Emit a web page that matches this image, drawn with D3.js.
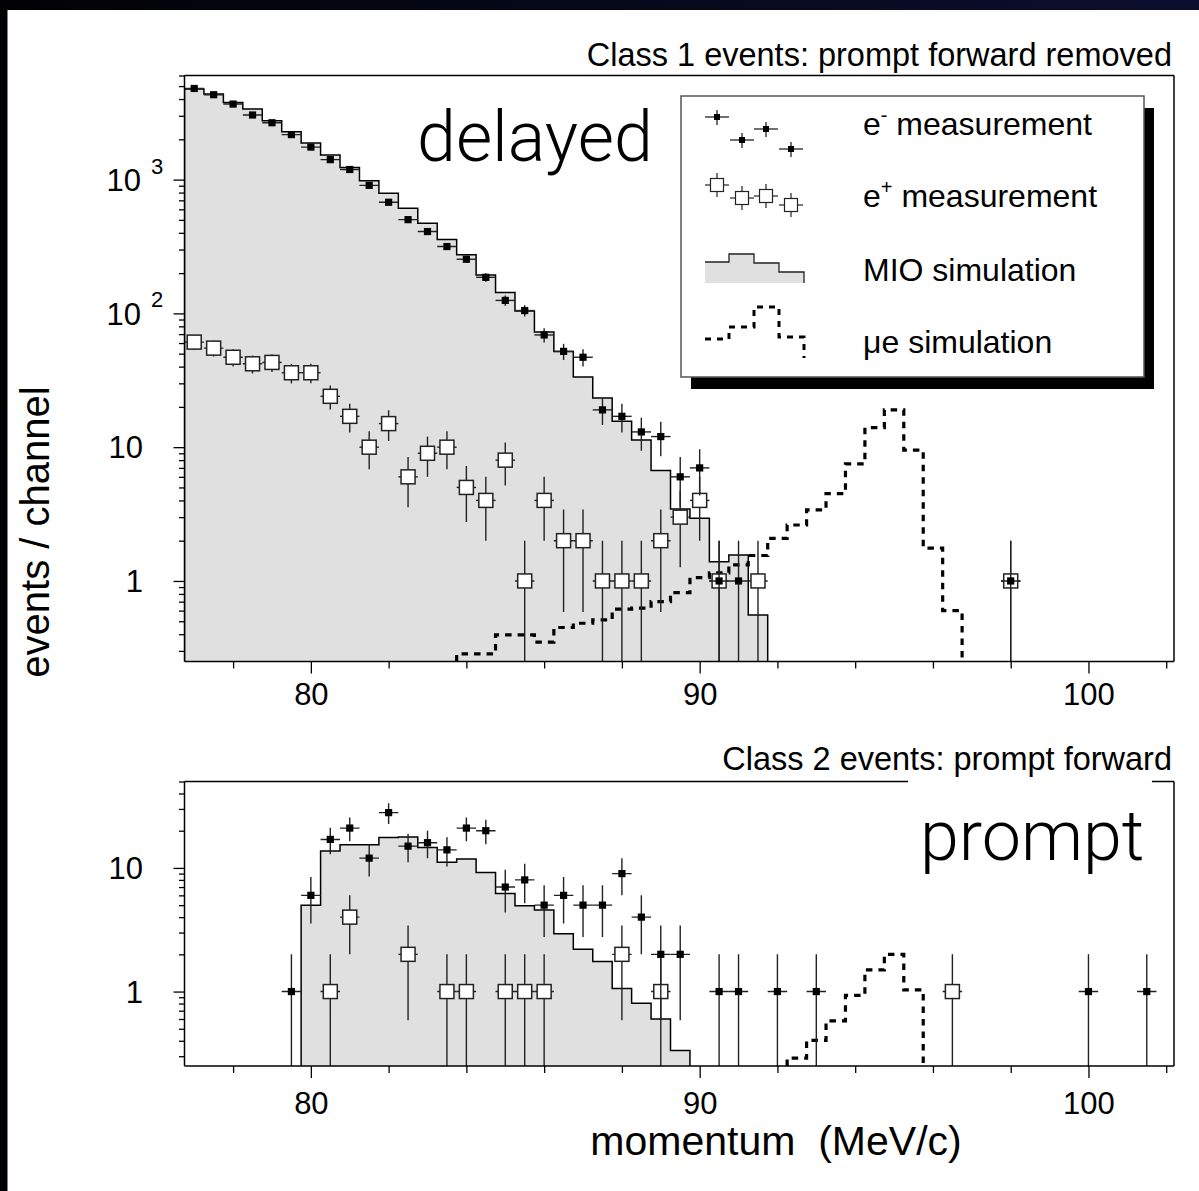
<!DOCTYPE html>
<html>
<head>
<meta charset="utf-8">
<script src="https://d3js.org/d3.v7.min.js"></script>
<style>
html, body { margin: 0; padding: 0; background: #fff; }
svg { display: block; }
</style>
</head>
<body>
<svg id="chart" width="1199" height="1191"></svg>
<script>
(function () {
'use strict';

// ---- data: [bin centre (MeV/c), events per 0.5 MeV channel] ----
var BIN_WIDTH = 0.5;

// class 1 (delayed)
var delayedElectrons = [
    [77.0, 4800], [77.5, 4310], [78.0, 3670], [78.5, 3040], [79.0, 2660],
    [79.5, 2170], [80.0, 1750], [80.5, 1410], [81.0, 1190], [81.5, 906],
    [82.0, 677], [82.5, 502], [83.0, 409], [83.5, 316], [84.0, 254],
    [84.5, 186], [85.0, 125], [85.5, 105], [86.0, 69], [86.5, 52],
    [87.0, 47], [87.5, 19], [88.0, 17], [88.5, 13], [89.0, 12],
    [89.5, 6], [90.0, 7], [90.5, 1], [91.0, 1], [98.0, 1]
];
var delayedPositrons = [
    [77.0, 61], [77.5, 55], [78.0, 47], [78.5, 42], [79.0, 43],
    [79.5, 36], [80.0, 36], [80.5, 24], [81.0, 17], [81.5, 10],
    [82.0, 15], [82.5, 6], [83.0, 9], [83.5, 10], [84.0, 5],
    [84.5, 4], [85.0, 8], [85.5, 1], [86.0, 4], [86.5, 2],
    [87.0, 2], [87.5, 1], [88.0, 1], [88.5, 1], [89.0, 2],
    [89.5, 3], [90.0, 4], [90.5, 1], [91.5, 1], [98.0, 1]
];
var delayedMio = [
    [77.0, 4750], [77.5, 4360], [78.0, 3775], [78.5, 3370], [79.0, 2755],
    [79.5, 2280], [80.0, 1880], [80.5, 1530], [81.0, 1230], [81.5, 980],
    [82.0, 790], [82.5, 611], [83.0, 472], [83.5, 357], [84.0, 274],
    [84.5, 194], [85.0, 143], [85.5, 104], [86.0, 72.5], [86.5, 52],
    [87.0, 33.5], [87.5, 23.3], [88.0, 15.6], [88.5, 11.3], [89.0, 6.7],
    [89.5, 3.45], [90.0, 2.94], [90.5, 1.39], [91.0, 1.56], [91.5, 0.557]
];
var delayedMuE = [
    [84.0, 0.285], [84.5, 0.285], [85.0, 0.395], [85.5, 0.395], [86.0, 0.349],
    [86.5, 0.449], [87.0, 0.483], [87.5, 0.512], [88.0, 0.615], [88.5, 0.626],
    [89.0, 0.701], [89.5, 0.819], [90.0, 1.06], [90.5, 1.15], [91.0, 1.32],
    [91.5, 1.55], [92.0, 2.08], [92.5, 2.62], [93.0, 3.4], [93.5, 4.5],
    [94.0, 7.5], [94.5, 14], [95.0, 19], [95.5, 9.5], [96.0, 1.76],
    [96.5, 0.6]
];

// class 2 (prompt)
var promptElectrons = [
    [79.5, 1], [80.0, 6], [80.5, 17], [81.0, 21], [81.5, 12],
    [82.0, 28], [82.5, 15], [83.0, 16], [83.5, 14], [84.0, 21],
    [84.5, 20], [85.0, 7], [85.5, 8], [86.0, 5], [86.5, 6],
    [87.0, 5], [87.5, 5], [88.0, 9], [88.5, 4], [89.0, 2],
    [89.5, 2], [90.5, 1], [91.0, 1], [92.0, 1], [93.0, 1],
    [100.0, 1], [101.5, 1]
];
var promptPositrons = [
    [80.5, 1], [81.0, 4], [82.5, 2], [83.5, 1], [84.0, 1],
    [85.0, 1], [85.5, 1], [86.0, 1], [88.0, 2], [89.0, 1], [96.5, 1]
];
var promptMio = [
    [80.0, 5], [80.5, 13.7], [81.0, 15.4], [81.5, 15.4], [82.0, 17.6],
    [82.5, 17.8], [83.0, 14.6], [83.5, 11.1], [84.0, 11.8], [84.5, 9.2],
    [85.0, 6.2], [85.5, 4.94], [86.0, 4.56], [86.5, 2.94], [87.0, 2.2],
    [87.5, 1.75], [88.0, 1.06], [88.5, 0.806], [89.0, 0.599], [89.5, 0.334]
];
var promptMuE = [
    [92.5, 0.29], [93.0, 0.403], [93.5, 0.58], [94.0, 0.93], [94.5, 1.5],
    [95.0, 2.0], [95.5, 1.03]
];

var xMajorTicks = [80, 90, 100];
var xMinorTicks = [78, 82, 84, 86, 88, 92, 94, 96, 98, 102];
var topYLabels = [[1000, '10', '3'], [100, '10', '2'], [10, '10', ''], [1, '1', '']];
var botYLabels = [[10, '10', ''], [1, '1', '']];

// ---- styles ----
var FONT = "'Liberation Sans', Arial, Helvetica, sans-serif";
var LIGHT_FONT = "Roboto, 'Open Sans', Lato, sans-serif";
var FILL_COLOR = '#e0e0e0';
var BAR_COLOR = '#222';

var svg = d3.select('#chart');

// dark strips along the top and left edge of the scan
var defs = svg.append('defs');
var grad = defs.append('linearGradient').attr('id', 'topband');
grad.append('stop').attr('offset', '0%').attr('stop-color', '#020205');
grad.append('stop').attr('offset', '100%').attr('stop-color', '#0c0e2e');
svg.append('rect').attr('x', 0).attr('y', 0).attr('width', 1199).attr('height', 10).attr('fill', 'url(#topband)');
svg.append('rect').attr('x', 0).attr('y', 0).attr('width', 7.5).attr('height', 1191).attr('fill', '#020204');

var x = d3.scaleLinear().domain([76.75, 102.2]).range([184.5, 1174]);
var yTop = d3.scaleLog().domain([0.25, 6000]).range([661.5, 75.5]).clamp(true);
var yBot = d3.scaleLog().domain([0.25, 50]).range([1066, 781.5]).clamp(true);

var stepPoints = function(bins) {
    var pts = bins.map(function(b) { return [b[0] - BIN_WIDTH / 2, b[1]]; });
    var last = bins[bins.length - 1];
    pts.push([last[0] + BIN_WIDTH / 2, last[1]]);
    return pts;
};

var drawPanel = function(id, y, data) {
    var floor = y.domain()[0];
    var x0 = x.range()[0], x1 = x.range()[1];
    var yb = y.range()[0], yt = y.range()[1];

    defs.append('clipPath').attr('id', id + '-clip')
        .append('rect')
        .attr('x', x0).attr('y', yt)
        .attr('width', x1 - x0).attr('height', yb - yt);

    var plot = svg.append('g').attr('clip-path', 'url(#' + id + '-clip)');

    // MIO simulation histogram
    var mio = stepPoints(data.mio);
    plot.append('path')
        .attr('d', d3.area().curve(d3.curveStepAfter)
            .x(function(d) { return x(d[0]); })
            .y0(yb)
            .y1(function(d) { return y(d[1]); })(mio))
        .attr('fill', FILL_COLOR);

    var line = d3.line().curve(d3.curveStepAfter)
        .x(function(d) { return x(d[0]); })
        .y(function(d) { return y(d[1]); });

    var closed = function(pts) {
        return [[pts[0][0], floor]].concat(pts).concat([[pts[pts.length - 1][0], floor]]);
    };

    plot.append('path')
        .attr('d', line(closed(mio)))
        .attr('fill', 'none')
        .attr('stroke', '#000')
        .attr('stroke-width', 1.5);

    // mu -> e simulation
    plot.append('path')
        .attr('d', line(closed(stepPoints(data.mue))))
        .attr('fill', 'none')
        .attr('stroke', '#000')
        .attr('stroke-width', 3.2)
        .attr('stroke-dasharray', '6.5,6');

    var errorBars = function(points, cls) {
        plot.selectAll('.v' + cls).data(points).join('line')
            .attr('class', 'v' + cls)
            .attr('x1', function(d) { return x(d[0]); })
            .attr('x2', function(d) { return x(d[0]); })
            .attr('y1', function(d) { return y(Math.max(d[1] - Math.sqrt(d[1]), floor)); })
            .attr('y2', function(d) { return y(d[1] + Math.sqrt(d[1])); })
            .attr('stroke', BAR_COLOR)
            .attr('stroke-width', 1.4);
        plot.selectAll('.h' + cls).data(points).join('line')
            .attr('class', 'h' + cls)
            .attr('x1', function(d) { return x(d[0] - BIN_WIDTH / 2); })
            .attr('x2', function(d) { return x(d[0] + BIN_WIDTH / 2); })
            .attr('y1', function(d) { return y(d[1]); })
            .attr('y2', function(d) { return y(d[1]); })
            .attr('stroke', BAR_COLOR)
            .attr('stroke-width', 1.4);
    };

    // e+ : open squares
    errorBars(data.positrons, 'p');
    plot.selectAll('.pos').data(data.positrons).join('rect')
        .attr('class', 'pos')
        .attr('x', function(d) { return x(d[0]) - 7; })
        .attr('y', function(d) { return y(d[1]) - 7; })
        .attr('width', 14).attr('height', 14)
        .attr('fill', '#fff')
        .attr('stroke', BAR_COLOR)
        .attr('stroke-width', 1.5);

    // e- : filled squares
    errorBars(data.electrons, 'e');
    plot.selectAll('.ele').data(data.electrons).join('rect')
        .attr('class', 'ele')
        .attr('x', function(d) { return x(d[0]) - 3.6; })
        .attr('y', function(d) { return y(d[1]) - 3.6; })
        .attr('width', 7.2).attr('height', 7.2)
        .attr('fill', '#000');

    // axes
    var xa = svg.append('g').attr('transform', 'translate(0,' + yb + ')');
    xa.call(d3.axisBottom(x).tickValues(xMinorTicks).tickSize(7).tickSizeOuter(0).tickFormat(''));
    var xm = svg.append('g').attr('transform', 'translate(0,' + yb + ')');
    xm.call(d3.axisBottom(x).tickValues(xMajorTicks).tickSize(12).tickSizeOuter(0)
        .tickPadding(data.xPad).tickFormat(d3.format('d')));
    [xa, xm].forEach(function(a) {
        a.select('.domain').remove();
        a.selectAll('line').attr('stroke', '#000').attr('stroke-width', 1.3);
    });
    xm.selectAll('text').attr('font-family', FONT).attr('font-size', 31).attr('fill', '#000');

    var minor = y.ticks().filter(function(v) {
        return [1, 10, 100, 1000].indexOf(v) < 0;
    });
    var ya = svg.append('g').attr('transform', 'translate(' + x0 + ',0)');
    ya.call(d3.axisLeft(y).tickValues(minor).tickSize(5.5).tickSizeOuter(0).tickFormat(''));
    var ym = svg.append('g').attr('transform', 'translate(' + x0 + ',0)');
    ym.call(d3.axisLeft(y).tickValues(data.yLabels.map(function(l) { return l[0]; }))
        .tickSize(11).tickSizeOuter(0).tickFormat(''));
    [ya, ym].forEach(function(a) {
        a.select('.domain').remove();
        a.selectAll('line').attr('stroke', '#000').attr('stroke-width', 1.3);
    });

    data.yLabels.forEach(function(l) {
        var hasExp = l[2] !== '';
        svg.append('text')
            .attr('x', hasExp ? 141 : 143)
            .attr('y', y(l[0]))
            .attr('dy', '0.36em')
            .attr('text-anchor', 'end')
            .attr('font-family', FONT)
            .attr('font-size', 31)
            .text(l[1]);
        if (hasExp) {
            svg.append('text')
                .attr('x', 151)
                .attr('y', y(l[0]) - 6)
                .attr('font-family', FONT)
                .attr('font-size', 22)
                .text(l[2]);
        }
    });

    // frame
    var frame = svg.append('g').attr('stroke', '#000').attr('stroke-width', 1.5).attr('fill', 'none');
    frame.append('line').attr('x1', x0).attr('x2', x0).attr('y1', yt).attr('y2', yb);
    frame.append('line').attr('x1', x1).attr('x2', x1).attr('y1', yt).attr('y2', yb);
    frame.append('line').attr('x1', x0).attr('x2', x1).attr('y1', yb).attr('y2', yb);
    data.topSegments.forEach(function(s) {
        frame.append('line').attr('x1', s[0]).attr('x2', s[1]).attr('y1', yt).attr('y2', yt);
    });

    svg.append('text')
        .attr('x', 1172).attr('y', data.titleY)
        .attr('text-anchor', 'end')
        .attr('font-family', FONT).attr('font-size', 32.5)
        .text(data.title);
};

drawPanel('delayed', yTop, {
    electrons: delayedElectrons, positrons: delayedPositrons,
    mio: delayedMio, mue: delayedMuE,
    yLabels: topYLabels, xPad: 9,
    topSegments: [[184.5, 1174]],
    title: 'Class 1 events: prompt forward removed', titleY: 66
});

drawPanel('prompt', yBot, {
    electrons: promptElectrons, positrons: promptPositrons,
    mio: promptMio, mue: promptMuE,
    yLabels: botYLabels, xPad: 14,
    topSegments: [[184.5, 908], [1152, 1174]],
    title: 'Class 2 events: prompt forward', titleY: 770
});

// big panel names
svg.append('text').attr('x', 417).attr('y', 161)
    .attr('font-family', LIGHT_FONT).attr('font-weight', 300).attr('font-size', 70)
    .text('delayed');
svg.append('text').attr('x', 920).attr('y', 860)
    .attr('font-family', LIGHT_FONT).attr('font-weight', 300).attr('font-size', 70)
    .text('prompt');

// axis titles
svg.append('text')
    .attr('transform', 'translate(49,532) rotate(-90)')
    .attr('text-anchor', 'middle')
    .attr('font-family', FONT).attr('font-size', 40)
    .text('events / channel');
svg.append('text')
    .attr('x', 776).attr('y', 1155)
    .attr('text-anchor', 'middle')
    .attr('font-family', FONT).attr('font-size', 41)
    .attr('xml:space', 'preserve')
    .text('momentum  (MeV/c)');

// ---- legend ----
var LX = 681, LY = 96, LW = 463, LH = 281;
var legend = svg.append('g').attr('transform', 'translate(' + LX + ',' + LY + ')');
legend.append('rect').attr('x', 10).attr('y', 12).attr('width', LW).attr('height', LH).attr('fill', '#000');
legend.append('rect').attr('x', 0).attr('y', 0).attr('width', LW).attr('height', LH)
    .attr('fill', '#fff').attr('stroke', '#555').attr('stroke-width', 1.5);

// sample glyph offsets inside the legend box
var eSample = [[36, 21], [61, 44], [85, 33], [110, 53]];
var pSample = [[36, 89], [61, 102], [85, 100], [110, 109]];
var mioSample = [[24, 166], [48, 158], [73, 167], [98, 176], [123, 176]];
var mueSample = [[24, 243], [48, 231], [73, 211], [98, 241], [123, 241]];

eSample.forEach(function(p) {
    legend.append('line').attr('x1', p[0] - 12).attr('x2', p[0] + 12).attr('y1', p[1]).attr('y2', p[1])
        .attr('stroke', BAR_COLOR).attr('stroke-width', 1.3);
    legend.append('line').attr('x1', p[0]).attr('x2', p[0]).attr('y1', p[1] - 7).attr('y2', p[1] + 8)
        .attr('stroke', BAR_COLOR).attr('stroke-width', 1.3);
    legend.append('rect').attr('x', p[0] - 3).attr('y', p[1] - 3).attr('width', 6).attr('height', 6).attr('fill', '#000');
});
pSample.forEach(function(p) {
    legend.append('line').attr('x1', p[0] - 12).attr('x2', p[0] + 12).attr('y1', p[1]).attr('y2', p[1])
        .attr('stroke', BAR_COLOR).attr('stroke-width', 1.2);
    legend.append('line').attr('x1', p[0]).attr('x2', p[0]).attr('y1', p[1] - 12).attr('y2', p[1] + 12)
        .attr('stroke', BAR_COLOR).attr('stroke-width', 1.2);
    legend.append('rect').attr('x', p[0] - 6.5).attr('y', p[1] - 6.5).attr('width', 13).attr('height', 13)
        .attr('fill', '#fff').attr('stroke', BAR_COLOR).attr('stroke-width', 1.2);
});
var legendStep = d3.line().curve(d3.curveStepAfter)
    .x(function(d) { return d[0]; }).y(function(d) { return d[1]; });
legend.append('path')
    .attr('d', d3.area().curve(d3.curveStepAfter)
        .x(function(d) { return d[0]; }).y0(187).y1(function(d) { return d[1]; })(mioSample))
    .attr('fill', FILL_COLOR);
legend.append('path')
    .attr('d', legendStep(mioSample.concat([[123, 187]])))
    .attr('fill', 'none').attr('stroke', '#222').attr('stroke-width', 1.3);
legend.append('path')
    .attr('d', legendStep(mueSample.concat([[123, 262]])))
    .attr('fill', 'none').attr('stroke', '#000').attr('stroke-width', 3).attr('stroke-dasharray', '6,6');

var legendText = [
    [39, 'e', '-', ' measurement'],
    [111, 'e', '+', ' measurement'],
    [185, 'MIO simulation', '', ''],
    [257, '\u03bce simulation', '', '']
];
legendText.forEach(function(t) {
    var txt = legend.append('text').attr('x', 182).attr('y', t[0])
        .attr('font-family', FONT).attr('font-size', 32).attr('xml:space', 'preserve');
    txt.append('tspan').text(t[1]);
    if (t[2]) {
        txt.append('tspan').attr('dy', -13).attr('font-size', 20).text(t[2]);
        txt.append('tspan').attr('dy', 13).text(t[3]);
    }
});

})();
</script>
</body>
</html>
